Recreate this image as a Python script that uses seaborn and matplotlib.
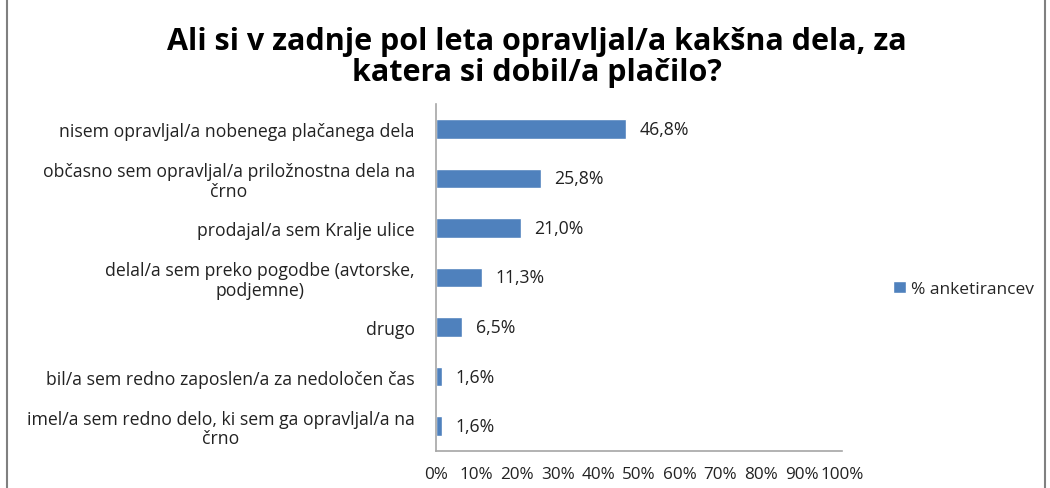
# -*- coding: utf-8 -*-
"""Horizontal bar chart: paid work in the last half year (survey shares)."""

import matplotlib
matplotlib.use("Agg")
import matplotlib.pyplot as plt
import seaborn as sns
from matplotlib.patches import Rectangle
from matplotlib.ticker import FuncFormatter

# --- data ---
categories = [
    "nisem opravljal/a nobenega plačanega dela",
    "občasno sem opravljal/a priložnostna dela na\nčrno",
    "prodajal/a sem Kralje ulice",
    "delal/a sem preko pogodbe (avtorske,\npodjemne)",
    "drugo",
    "bil/a sem redno zaposlen/a za nedoločen čas",
    "imel/a sem redno delo, ki sem ga opravljal/a na\nčrno",
]
shares = [46.8, 25.8, 21.0, 11.3, 6.5, 1.6, 1.6]
value_labels = ["46,8%", "25,8%", "21,0%", "11,3%", "6,5%", "1,6%", "1,6%"]
series_name = "% anketirancev"
title = "Ali si v zadnje pol leta opravljal/a kakšna dela, za\nkatera si dobil/a plačilo?"

sns.set_theme(style="white")
plt.rcParams["font.family"] = ["Open Sans", "DejaVu Sans"]

fig = plt.figure(figsize=(10.5, 4.89), dpi=100)
ax = fig.add_axes([0.415, 0.076, 0.387, 0.709])

sns.barplot(x=shares, y=categories, color="#4F81BD", width=0.4,
            saturation=1, label=series_name, ax=ax)

ax.set_xlim(0, 100)
ax.set_xticks(range(0, 101, 10))
ax.xaxis.set_major_formatter(FuncFormatter(lambda v, _: f"{v:.0f}%"))
ax.tick_params(axis="x", length=0, pad=11, labelsize=12.3, colors="#222222")
ax.tick_params(axis="y", length=0, pad=15, labelsize=12.7, colors="#222222")
for lbl in ax.get_yticklabels():
    lbl.set_multialignment("center")
    lbl.set_linespacing(1.1)
ax.set_xlabel("")
ax.set_ylabel("")

for s in ["top", "right"]:
    ax.spines[s].set_visible(False)
for s in ["left", "bottom"]:
    ax.spines[s].set_color("#a6a6a6")
    ax.spines[s].set_linewidth(1.2)

# data labels at the bar ends
for bar, txt in zip(ax.patches, value_labels):
    ax.text(bar.get_width() + 3.3, bar.get_y() + bar.get_height() / 2, txt,
            va="center", ha="left", fontsize=12.7, color="#222222")

fig.text(0.511, 0.882, title, ha="center", va="center", fontsize=22,
         fontweight="bold", linespacing=1.05, color="black")

ax.legend(loc="center left", bbox_to_anchor=(0.836, 0.407),
          bbox_transform=fig.transFigure, frameon=False, fontsize=12.5,
          handlelength=0.7, handleheight=0.7, handletextpad=0.3)

# chart area border
fig.patches.append(Rectangle((0.007, -0.01), 0.988, 1.02, transform=fig.transFigure,
                             fill=False, edgecolor="#808080", linewidth=1.5))

fig.savefig("out.png", dpi=100)
